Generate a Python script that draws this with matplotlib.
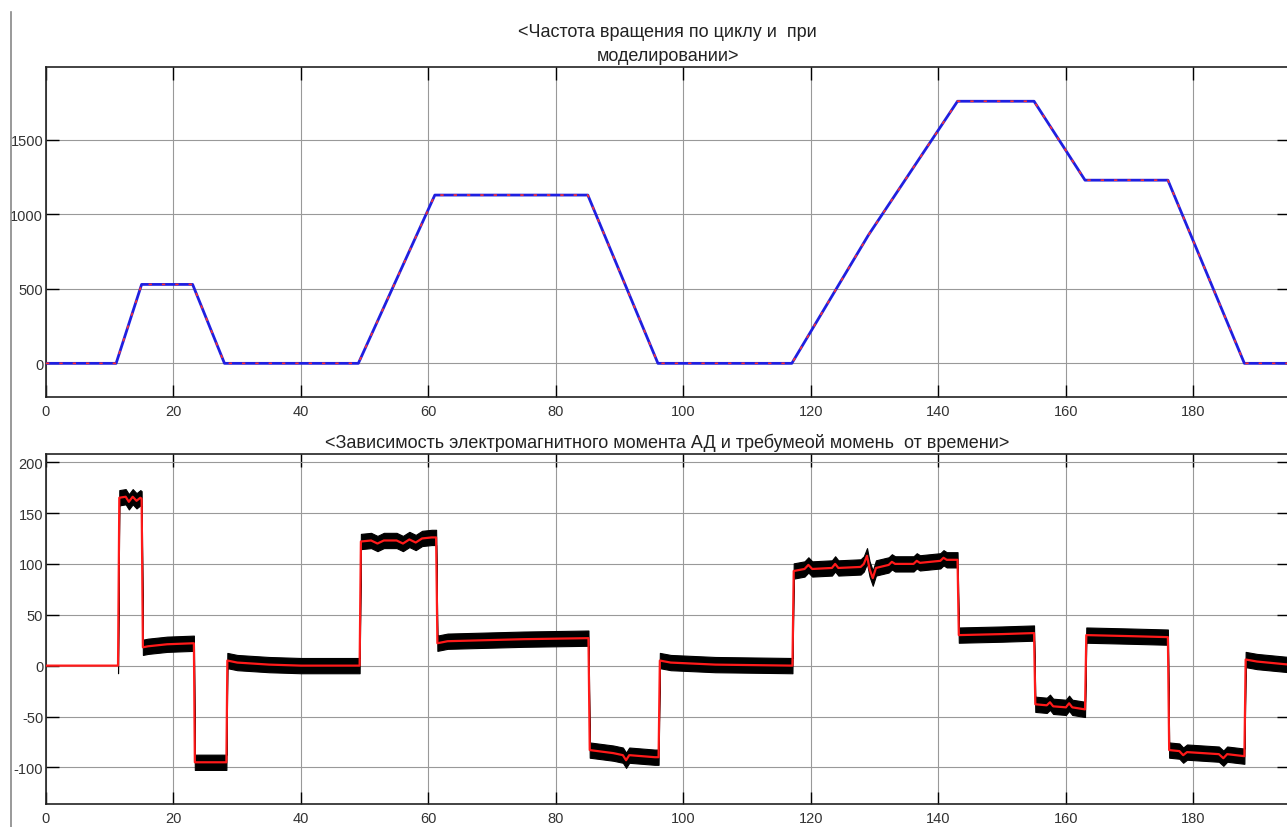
import matplotlib
matplotlib.use("Agg")
import matplotlib.pyplot as plt
import numpy as np

# ---- Data: speed profile (top) ----
speed_t = [0, 11, 15, 23, 28, 49, 61, 85, 96, 117, 129, 143, 155, 163, 176, 188, 195]
speed_v = [0, 0, 530, 530, 0, 0, 1130, 1130, 0, 0, 860, 1760, 1760, 1230, 1230, 0, 0]

# ---- Data: required torque (red) and EM torque band (black) ----
torque_t = [0, 11.3, 11.5, 12.5, 13.0, 13.6, 14.2, 14.8, 15.0,
            15.2, 16, 19, 23.2,
            23.35, 24, 28.3,
            28.45, 30, 35, 40, 49.2,
            49.4, 51, 52, 53, 55, 56, 57, 58, 59, 60.5, 61.2,
            61.4, 63, 75, 85.1,
            85.3, 89, 90.5, 91, 91.5, 95.5, 96.1,
            96.3, 98, 105, 117.1,
            117.3, 119, 119.6, 120.2, 123.3, 123.8, 124.3, 127.8, 128.3, 128.8, 129.2, 129.7,
            130.2, 132.2, 132.7, 133.2, 136.1, 136.6, 137.1, 140.3, 140.8, 141.3, 143.0,
            143.2, 150, 155.0,
            155.2, 157, 157.5, 158, 160, 160.5, 161, 163.0,
            163.2, 170, 176.0,
            176.2, 177.8, 178.4, 179, 184, 184.7, 185.3, 188.0,
            188.2, 190, 195]
torque_v = [0, 0, 165, 166, 161, 166, 162, 165, 164,
            18, 19, 21, 22,
            -95, -95, -95,
            5, 3, 1, 0, 0,
            122, 123, 120, 123, 123, 120, 124, 121, 125, 126, 126,
            22, 24, 26, 27,
            -83, -86, -88, -93, -88, -90, -90,
            5, 3, 1, 0,
            93, 95, 99, 95, 96, 100, 96, 97, 100, 108, 95, 86,
            96, 99, 102, 100, 100, 103, 101, 103, 106, 104, 104,
            30, 31, 32,
            -38, -39, -36, -40, -41, -37, -41, -43,
            30, 29, 28,
            -83, -84, -88, -85, -87, -91, -87, -89,
            6, 4, 1]
em_start_time = 11.3       # EM torque band starts at motor switch-on
em_ripple_halfwidth = 7.5  # ripple amplitude of EM torque

x_ticks = [0, 20, 40, 60, 80, 100, 120, 140, 160, 180]
speed_ticks = [0, 500, 1000, 1500]
torque_ticks = [-100, -50, 0, 50, 100, 150, 200]

title_top = "<Частота вращения по циклу и  при\nмоделировании>"
title_bottom = "<Зависимость электромагнитного момента АД и требумеой момень  от времени>"

plt.rcParams['font.family'] = ['Liberation Sans', 'DejaVu Sans']
plt.rcParams['axes.unicode_minus'] = False

W, H = 1287, 828
fig = plt.figure(figsize=(W / 100, H / 100), dpi=100)

def px_axes(left, top, right, bottom):
    return fig.add_axes([left / W, 1 - bottom / H, (right - left) / W, (bottom - top) / H])

ax1 = px_axes(46, 68, 1289, 398)
ax2 = px_axes(46, 455, 1289, 805)

for ax in (ax1, ax2):
    ax.set_xlim(0, 195)
    ax.set_xticks(x_ticks)
    ax.grid(True, color='#999999', linewidth=0.8)
    ax.set_axisbelow(True)
    ax.tick_params(direction='in', length=9, width=1, top=True, right=True,
                   labelsize=10.5, labelcolor='#333333')
    ax.tick_params(axis='y', pad=2)
    ax.tick_params(axis='x', pad=5)
    for s in ax.spines.values():
        s.set_linewidth(1.2)
        s.set_color('#222222')

# Top plot
ax1.plot(speed_t, speed_v, color='#1f1fe0', linewidth=2.0, zorder=3)
ax1.plot(speed_t, speed_v, color='#ff3030', linewidth=1.2, linestyle=(0, (2, 6)), zorder=4)
ax1.set_ylim(-226, 1990)
ax1.set_yticks(speed_ticks)
ax1.set_title(title_top, fontsize=13, color='#222222', pad=5, linespacing=1.55)

# Bottom plot
tt = np.array(torque_t, dtype=float)
vv = np.array(torque_v, dtype=float)
mask = tt >= em_start_time
ax2.fill_between(tt[mask], vv[mask] - em_ripple_halfwidth, vv[mask] + em_ripple_halfwidth,
                 color='black', linewidth=0.8, edgecolor='black', zorder=3)
ax2.plot(tt, vv, color='#ff1a1a', linewidth=1.6, zorder=4)
ax2.set_ylim(-136, 208)
ax2.set_yticks(torque_ticks)
ax2.set_title(title_bottom, fontsize=13, color='#222222', pad=5)

# window border line at left
fig.add_artist(plt.Line2D([11 / W, 11 / W], [0, 1 - 13 / H], color='#888888', linewidth=1.2))

fig.savefig("out.png", dpi=100)
